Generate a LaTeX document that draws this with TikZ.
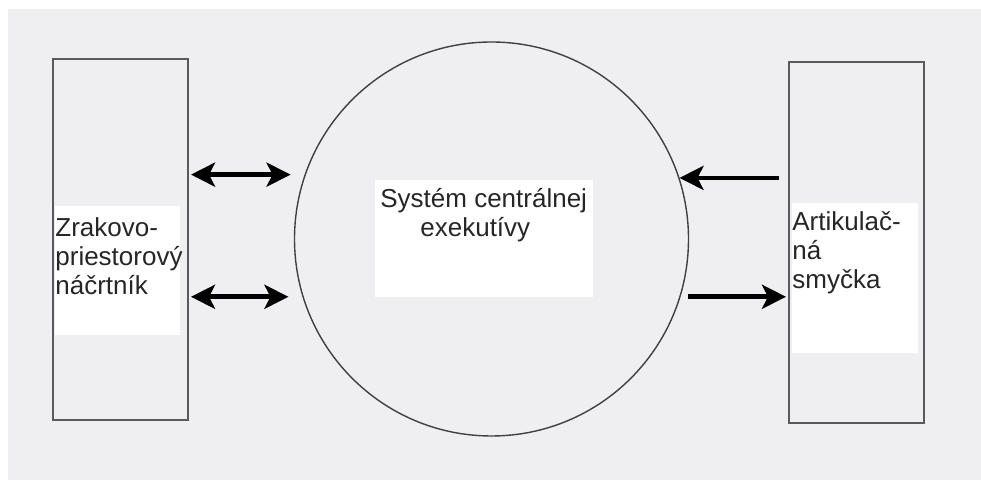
\documentclass[tikz,border=0pt]{standalone}
\usepackage{fontspec}
\setmainfont{Liberation Sans}
\usetikzlibrary{arrows.meta}
\usetikzlibrary{positioning}

\definecolor{pozadie}{RGB}{239,239,242}
\definecolor{ciara}{RGB}{90,90,90}

\tikzset{
  blok/.style={draw=ciara, line width=1pt, rectangle, inner sep=0pt,
    minimum width=67.5pt, minimum height=180.5pt},
  podklad/.style={fill=white, inner sep=0pt},
  popis/.style={inner sep=0pt, align=left, text=black!85,
    font=\fontsize{13}{14.5}\selectfont},
  sipka/.style={line width=2.3pt, -{Stealth[length=12pt,width=12pt,inset=3pt]}},
  dvojsipka/.style={line width=2.3pt,
    {Stealth[length=12pt,width=12pt,inset=3pt]}-{Stealth[length=12pt,width=12pt,inset=3pt]}},
}

\begin{document}
\begin{tikzpicture}[x=0.5pt, y=-0.5pt]
  \useasboundingbox (0,0) rectangle (981,480);
  \fill[white] (0,0) rectangle (981,480);
  \fill[pozadie] (8,9) rectangle (981,480);

  % bloky po stranach
  \node[blok] (zrak) at (120.5,239.5) {};
  \node[blok] (artik) at (856.5,242.5) {};

  % centralna exekutiva
  \node[draw=black!75, line width=0.7pt, circle, inner sep=0pt, minimum size=197pt] (exek) at (491.5,239) {};

  % biele podklady pod textom
  \node[podklad, minimum width=62.5pt, minimum height=64.5pt] (zrakPad) at (117.5,270.5) {};
  \node[podklad, minimum width=109pt, minimum height=58.5pt] (exekPad) at (484,238.5) {};
  \node[podklad, minimum width=63pt, minimum height=75pt] (artikPad) at (855,278) {};

  \node[popis, anchor=north west] (zrakText) at (55,217) {Zrakovo-\\priestorový\\náčrtník};
  \node[popis, anchor=north west] (exekText) at (380,188) {Systém centrálnej\\\hspace*{20pt}exekutívy};
  \node[popis, anchor=north west] (artikText) at (792,211) {Artikulač-\\ná\\smyčka};

  % sipky
  \draw[dvojsipka, shorten <=1pt, shorten >=7pt] (zrak.east |- exek.161) -- (exek.161);
  \draw[dvojsipka, shorten <=1pt, shorten >=7pt] (zrak.east |- exek.197) -- (exek.197);
  \draw[sipka, shorten <=4.5pt] (artik.west |- exek.18) -- (exek.18);
  \draw[sipka, shorten <=3.5pt, shorten >=1pt] (exek.343) -- (artik.west |- exek.343);
\end{tikzpicture}
\end{document}
